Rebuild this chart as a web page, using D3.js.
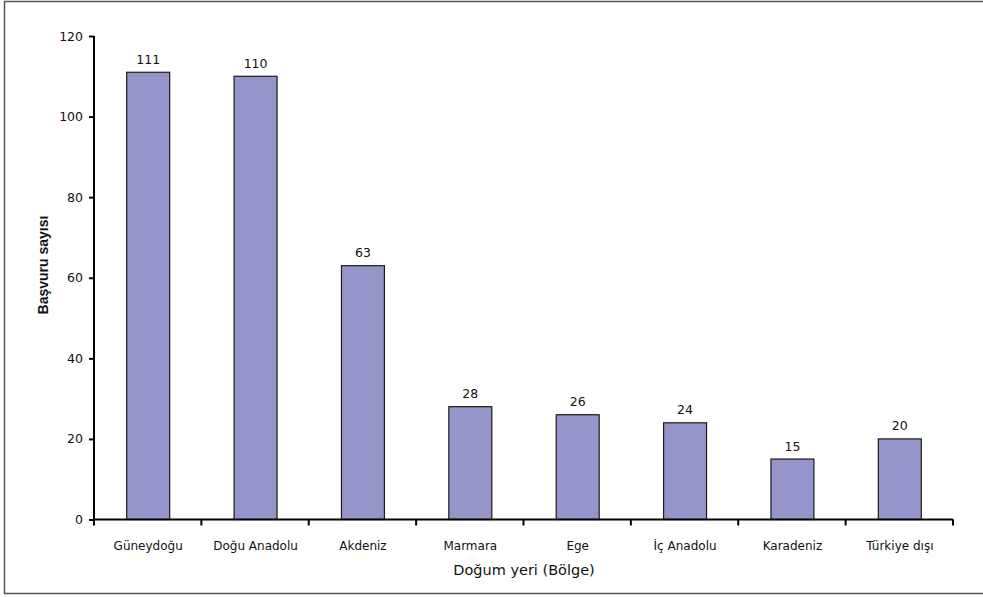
<!DOCTYPE html>
<html>
<head>
<meta charset="utf-8">
<script src="https://cdn.jsdelivr.net/npm/d3@7"></script>
<style>
  html, body { margin: 0; padding: 0; background: #fff; }
  svg { display: block; }
</style>
</head>
<body>
<svg id="chart" width="983" height="597"></svg>
<script>
// Applications by region of birth
const regions = ["Güneydoğu", "Doğu Anadolu", "Akdeniz", "Marmara", "Ege", "İç Anadolu", "Karadeniz", "Türkiye dışı"];
const applications = [111, 110, 63, 28, 26, 24, 15, 20];
const yTicks = [0, 20, 40, 60, 80, 100, 120];
const xTitle = "Doğum yeri (Bölge)";
const yTitle = "Başvuru sayısı";

const svg = d3.select("#chart");
const font = "'DejaVu Sans', Verdana, sans-serif";

// frame around the chart area
svg.append("path")
  .attr("d", "M983,1.5 H4.5 V593.5 H983")
  .attr("fill", "none")
  .attr("stroke", "#555")
  .attr("stroke-width", 1.5);

const plot = { left: 94, right: 953, top: 36, bottom: 519.5 };

const x = d3.scaleBand()
  .domain(regions)
  .range([plot.left, plot.right])
  .paddingInner(0.6)
  .paddingOuter(0.3);

const y = d3.scaleLinear()
  .domain([0, 120])
  .range([plot.bottom, plot.top]);

// bars
svg.append("g").selectAll("rect")
  .data(regions)
  .join("rect")
  .attr("x", d => x(d) + 0.5)
  .attr("y", (d, i) => y(applications[i]))
  .attr("width", x.bandwidth())
  .attr("height", (d, i) => y(0) - y(applications[i]))
  .attr("fill", "#9595c9")
  .attr("stroke", "#1a1a1a")
  .attr("stroke-width", 1.2);

// value labels
svg.append("g").selectAll("text")
  .data(regions)
  .join("text")
  .attr("x", d => x(d) + x.bandwidth() / 2 + 0.5)
  .attr("y", (d, i) => y(applications[i]) - 8.5)
  .attr("text-anchor", "middle")
  .attr("font-family", font)
  .attr("font-size", 12.5)
  .attr("fill", "#111")
  .text((d, i) => applications[i]);

// y axis
const yAxis = d3.axisLeft(y).tickValues(yTicks).tickSize(5).tickPadding(6);
const gy = svg.append("g")
  .attr("transform", `translate(${plot.left},0)`)
  .call(yAxis);
gy.select(".domain").attr("stroke", "#000").attr("stroke-width", 2)
  .attr("d", `M0,${plot.top}V${plot.bottom}`);
gy.selectAll(".tick line").attr("stroke", "#000").attr("stroke-width", 2);
gy.selectAll(".tick text")
  .attr("font-family", font)
  .attr("font-size", 12.5)
  .attr("fill", "#111");

// x axis: ticks mark the category boundaries
const gx = svg.append("g").attr("transform", `translate(0,${plot.bottom})`);
gx.append("path")
  .attr("d", `M${plot.left},0H${plot.right}`)
  .attr("stroke", "#000")
  .attr("stroke-width", 2);
const step = (plot.right - plot.left) / regions.length;
gx.selectAll("line.tick")
  .data(d3.range(regions.length + 1))
  .join("line")
  .attr("class", "tick")
  .attr("x1", i => plot.left + i * step)
  .attr("x2", i => plot.left + i * step)
  .attr("y1", 0)
  .attr("y2", 6)
  .attr("stroke", "#000")
  .attr("stroke-width", 2);
gx.selectAll("text")
  .data(regions)
  .join("text")
  .attr("x", d => x(d) + x.bandwidth() / 2 + 0.5)
  .attr("y", 30)
  .attr("text-anchor", "middle")
  .attr("font-family", font)
  .attr("font-size", 12)
  .attr("fill", "#111")
  .text(d => d);

// axis titles
svg.append("text")
  .attr("x", 524)
  .attr("y", 575)
  .attr("text-anchor", "middle")
  .attr("font-family", font)
  .attr("font-size", 14.5)
  .attr("fill", "#111")
  .text(xTitle);

svg.append("text")
  .attr("transform", "translate(47.5,265) rotate(-90)")
  .attr("text-anchor", "middle")
  .attr("font-family", "'Liberation Sans', Arial, sans-serif")
  .attr("font-weight", "bold")
  .attr("font-size", 14)
  .attr("fill", "#111")
  .text(yTitle);
</script>
</body>
</html>
